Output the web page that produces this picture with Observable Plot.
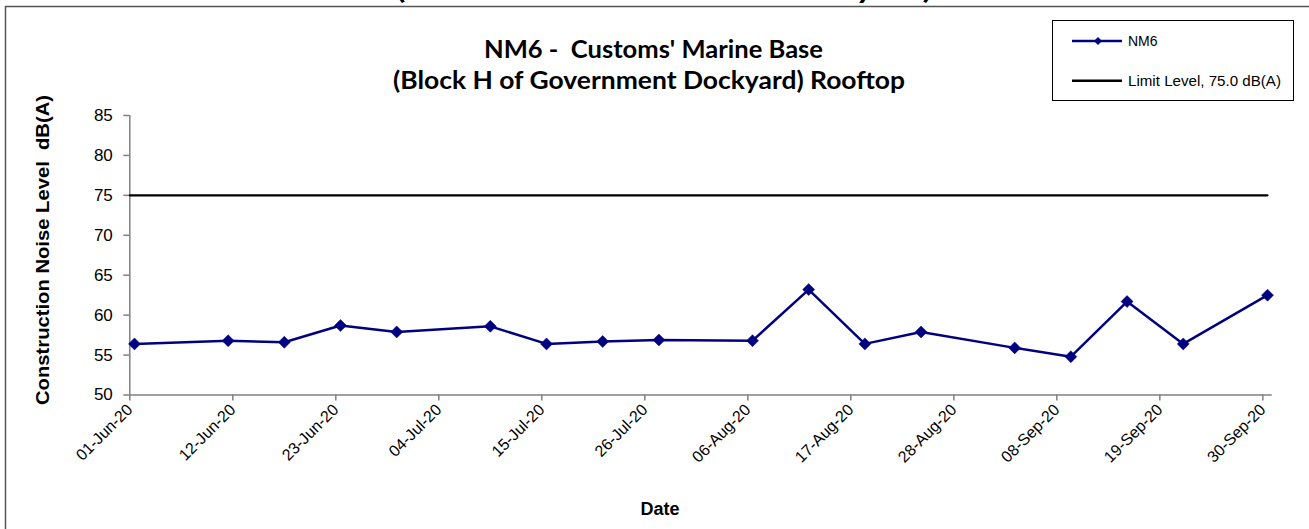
<!DOCTYPE html>
<html>
<head>
<meta charset="utf-8">
<script src="https://cdn.jsdelivr.net/npm/d3@7"></script>
<script src="https://cdn.jsdelivr.net/npm/@observablehq/plot@0.6"></script>
<style>
  html, body { margin: 0; padding: 0; background: #fff; }
  #wrap { position: relative; width: 1309px; height: 529px; overflow: hidden; background: #fff; }
  #wrap > svg { position: absolute; left: 0; top: 0; }
  g[aria-label="y-axis tick"] path, g[aria-label="x-axis tick"] path { stroke: #808080; stroke-width: 1.5; }
</style>
</head>
<body>
<div id="wrap"></div>
<script>
// ---- data ----
const dates = ["2020-06-01","2020-06-11","2020-06-17","2020-06-23","2020-06-29","2020-07-09","2020-07-15","2020-07-21","2020-07-27","2020-08-06","2020-08-12","2020-08-18","2020-08-24","2020-09-03","2020-09-09","2020-09-15","2020-09-21","2020-09-30"];
const nm6 = [56.4,56.8,56.6,58.7,57.9,58.6,56.4,56.7,56.9,56.8,63.2,56.4,57.9,55.9,54.8,61.7,56.4,62.5];
const limitLevel = 75;
const limitDates = ["2020-06-01T00:00Z", "2020-09-30T12:00Z"];
const xDomain = ["2020-06-01", "2020-10-01"];
const xTicks = ["2020-06-01","2020-06-12","2020-06-23","2020-07-04","2020-07-15","2020-07-26","2020-08-06","2020-08-17","2020-08-28","2020-09-08","2020-09-19","2020-09-30"];
const yTicks = [50,55,60,65,70,75,80,85];
const titleLines = ["NM6 -  Customs' Marine Base", "(Block H of Government Dockyard) Rooftop"];
const prevTitle = "(Block H of Government Dockyard)";
const yLabel = "Construction Noise Level  dB(A)";
const xLabel = "Date";
const seriesName = "NM6";
const limitName = "Limit Level, 75.0 dB(A)";

// ---- build tables ----
const HALF_DAY = 12 * 3600 * 1000;
const parse = s => d3.isoParse(s);
const series = dates.map((d, i) => ({date: new Date(+parse(d) + HALF_DAY), value: nm6[i]}));
const limit = limitDates.map(d => ({date: parse(d), value: limitLevel}));

const W = 1309, H = 529;
const chart = Plot.plot({
  width: W, height: H,
  marginLeft: 129.3, marginRight: 37.3, marginTop: 115, marginBottom: 134.5,
  style: {fontFamily: "'Liberation Sans', Arial, sans-serif", fontSize: "16px", color: "#000", background: "transparent", overflow: "visible"},
  x: {type: "utc", domain: xDomain.map(parse), label: null},
  y: {domain: [50, 85], label: null},
  marks: [
    Plot.axisY({ticks: yTicks, tickSize: 6, tickPadding: 11, fontSize: 17, tickFormat: d => String(d), label: null}),
    Plot.axisX({ticks: xTicks.map(parse), tickSize: 6, tickPadding: 6, tickRotate: -45, fontSize: 16, tickFormat: d3.utcFormat("%d-%b-%y"), label: null}),
    Plot.ruleX([parse(xDomain[0])], {stroke: "#808080", strokeWidth: 1.5}),
    Plot.ruleY([50], {stroke: "#808080", strokeWidth: 1.5}),
    Plot.line(limit, {x: "date", y: "value", stroke: "#000", strokeWidth: 2.2}),
    Plot.line(series, {x: "date", y: "value", stroke: "#000080", strokeWidth: 2.5}),
    Plot.dot(series, {x: "date", y: "value", symbol: "diamond2", r: 5.4, fill: "#000080", stroke: "#000080", strokeWidth: 0.5})
  ]
});
document.getElementById("wrap").appendChild(chart);

// ---- overlay: frame, titles, axis titles, legend ----
const svg = d3.select("#wrap").append("svg")
  .attr("width", W).attr("height", H)
  .style("pointer-events", "none");

// partly cut-off title of the chart above (only its descenders show)
svg.append("text")
  .attr("x", 396).attr("y", -1)
  .attr("textLength", 536).attr("lengthAdjust", "spacingAndGlyphs")
  .style("font-family", "Lato, 'Noto Sans', sans-serif").style("font-weight", "bold").style("font-size", "25px")
  .text(prevTitle);

// outer chart frame
svg.append("rect")
  .attr("x", 5.5).attr("y", 6.5).attr("width", 1400).attr("height", 600)
  .attr("fill", "none").attr("stroke", "#555").attr("stroke-width", 1.5);

// title
const tAttrs = [{y: 58, len: 339, x: 653.5}, {y: 89, len: 512, x: 649}];
titleLines.forEach((t, i) => {
  svg.append("text")
    .attr("x", tAttrs[i].x).attr("y", tAttrs[i].y)
    .attr("text-anchor", "middle")
    .attr("textLength", tAttrs[i].len).attr("lengthAdjust", "spacingAndGlyphs")
    .style("white-space", "pre")
    .style("font-family", "Lato, 'Noto Sans', sans-serif").style("font-weight", "bold").style("font-size", "25px")
    .text(t);
});

// y-axis title
svg.append("text")
  .attr("transform", "translate(49,250) rotate(-90)")
  .attr("text-anchor", "middle")
  .attr("textLength", 310).attr("lengthAdjust", "spacingAndGlyphs")
  .style("white-space", "pre")
  .style("font-family", "'Liberation Sans', Arial, sans-serif").style("font-weight", "bold").style("font-size", "19px")
  .text(yLabel);

// x-axis title
svg.append("text")
  .attr("x", 660).attr("y", 515)
  .attr("text-anchor", "middle")
  .style("font-family", "'Liberation Sans', Arial, sans-serif").style("font-weight", "bold").style("font-size", "18px")
  .text(xLabel);

// legend
const lg = svg.append("g");
lg.append("rect").attr("x", 1052.5).attr("y", 20.5).attr("width", 241).attr("height", 80)
  .attr("fill", "#fff").attr("stroke", "#000").attr("stroke-width", 1);
lg.append("line").attr("x1", 1072).attr("x2", 1122).attr("y1", 41).attr("y2", 41)
  .attr("stroke", "#000080").attr("stroke-width", 2.5);
lg.append("path").attr("d", d3.symbol(d3.symbolDiamond2, 40)()).attr("transform", "translate(1098,41)")
  .attr("fill", "#000080");
lg.append("text").attr("x", 1128).attr("y", 46)
  .style("font-family", "'Liberation Sans', Arial, sans-serif").style("font-size", "14px")
  .text(seriesName);
lg.append("line").attr("x1", 1072).attr("x2", 1122).attr("y1", 80.7).attr("y2", 80.7)
  .attr("stroke", "#000").attr("stroke-width", 2.5);
lg.append("text").attr("x", 1128).attr("y", 85.5)
  .attr("textLength", 153).attr("lengthAdjust", "spacingAndGlyphs")
  .style("font-family", "'Liberation Sans', Arial, sans-serif").style("font-size", "14px")
  .text(limitName);
</script>
</body>
</html>
